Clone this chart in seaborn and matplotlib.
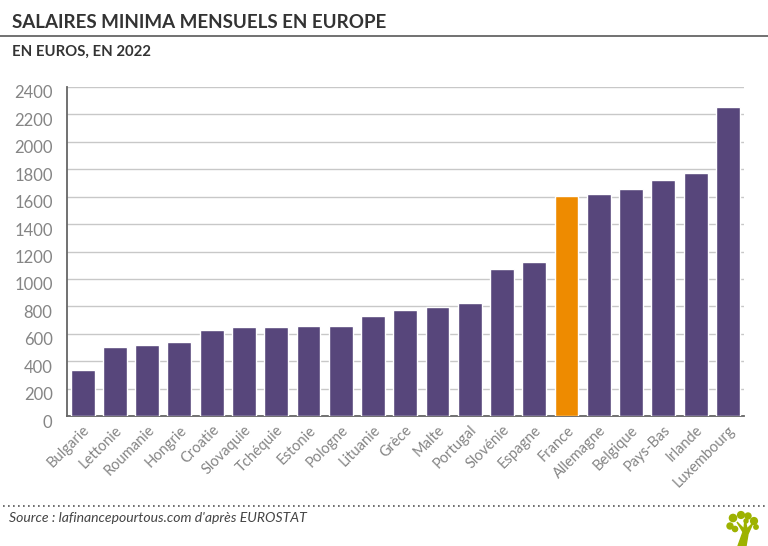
import numpy as np
import matplotlib
matplotlib.use("Agg")
import matplotlib.pyplot as plt
import matplotlib.transforms as mtrans
from matplotlib.patches import Circle, Polygon
import pandas as pd
import seaborn as sns

# data
pays = ["Bulgarie", "Lettonie", "Roumanie", "Hongrie", "Croatie", "Slovaquie", "Tchéquie",
        "Estonie", "Pologne", "Lituanie", "Grèce", "Malte", "Portugal", "Slovénie", "Espagne",
        "France", "Allemagne", "Belgique", "Pays-Bas", "Irlande", "Luxembourg"]
salaires = [332, 500, 515, 542, 624, 646, 652, 654, 655, 730, 773, 792, 823, 1074, 1126,
            1603, 1621, 1658, 1725, 1775, 2257]
y_ticks = list(range(0, 2401, 200))

violet = "#57467b"
orange = "#ee8b00"
gris = "#333333"
gris_clair = "#858585"

sns.set_style("white")
plt.rcParams["font.family"] = ["Lato", "DejaVu Sans"]

df = pd.DataFrame({"pays": pays, "salaire": salaires})
couleurs = {p: (orange if p == "France" else violet) for p in pays}

fig = plt.figure(figsize=(7.68, 5.46), dpi=100)
W, H = 768, 546
ax = fig.add_axes([66.5 / W, 1 - 416 / H, (744 - 66.5) / W, (416 - 87) / H])

sns.barplot(data=df, x="pays", y="salaire", hue="pays", palette=couleurs, legend=False,
            width=0.74, saturation=1, ax=ax, zorder=3)

ax.set_xlim(-0.5, len(pays) - 0.5)
ax.set_ylim(0, 2400)
ax.set_xlabel("")
ax.set_ylabel("")
ax.set_axisbelow(True)
ax.yaxis.grid(True, color="#c8c8c8", lw=1)
ax.xaxis.grid(False)

for s in ["top", "right"]:
    ax.spines[s].set_visible(False)
for s in ["left", "bottom"]:
    ax.spines[s].set_color("#666666")
    ax.spines[s].set_linewidth(1.3)

# y labels sit a little below their gridline
ax.set_yticks(y_ticks)
ax.tick_params(axis="y", length=0, pad=10, labelsize=12, labelcolor=gris_clair)
decal = mtrans.ScaledTranslation(0, -5 / 100, fig.dpi_scale_trans)
for lab in ax.get_yticklabels():
    lab.set_transform(lab.get_transform() + decal)

# ticks between the bars, names on the bar centres
ax.set_xticks(np.arange(len(pays) + 1) - 0.5, minor=True)
ax.tick_params(axis="x", which="minor", direction="in", length=7, width=1, color="#555555")
ax.set_xticks(range(len(pays)))
ax.set_xticklabels(pays, rotation=45, ha="right", va="top", rotation_mode="anchor",
                   fontsize=10.5, color=gris_clair)
ax.tick_params(axis="x", which="major", length=0, pad=5)

# header
fig.text(12 / W, 1 - 22 / H, "SALAIRES MINIMA MENSUELS EN EUROPE", fontsize=13.5, fontweight="bold",
         color=gris, va="center", ha="left")
fig.add_artist(plt.Line2D([0, 1], [1 - 35.5 / H] * 2, color="#666666", lw=1.3))
fig.text(12 / W, 1 - 52 / H, "EN EUROS, EN 2022", fontsize=10.7, fontweight="bold",
         color=gris, va="center", ha="left")

# footer
fig.add_artist(plt.Line2D([3 / W, 1], [1 - 506 / H] * 2, color="#555555", lw=1.2,
                          linestyle=(0, (1, 2))))
fig.text(9 / W, 1 - 518 / H, "Source : lafinancepourtous.com d'après EUROSTAT", fontsize=10.1,
         style="italic", color="#444444", va="center", ha="left")

# little tree logo
logo = fig.add_axes([725 / W, 0, 40 / W, 36 / H])
logo.set_xlim(725, 765)
logo.set_ylim(546, 510)
logo.axis("off")
vert = "#9db200"
logo.add_patch(Polygon([(738, 546), (743, 532), (737, 522), (744, 529), (745, 519),
                        (747, 529), (753, 523), (748, 534), (746, 546)], color=vert))
for cx, cy, r in [(733, 518, 3.6), (730, 526, 3), (735, 529, 2.6), (741, 515, 3.4),
                  (748, 516, 3), (754, 521, 3.4), (756, 527, 2.2), (746, 521, 2)]:
    logo.add_patch(Circle((cx, cy), r, color=vert))

fig.savefig("out.png", dpi=100)
